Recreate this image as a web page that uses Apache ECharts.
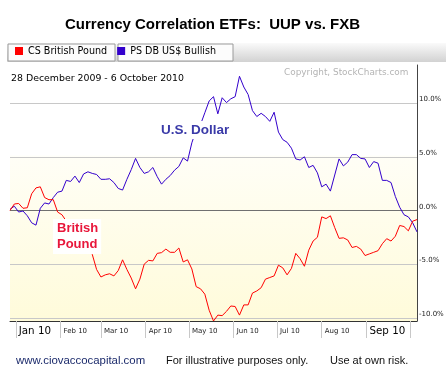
<!DOCTYPE html>
<html><head><meta charset="utf-8">
<script src="https://cdn.jsdelivr.net/npm/echarts@6/dist/echarts.min.js"></script>
<style>html,body{margin:0;padding:0;background:#fff}#c{width:446px;height:387px}</style>
</head><body><div id="c"></div>
<script>
const titleText = 'Currency Correlation ETFs:  UUP vs. FXB';
const dateRangeText = '28 December 2009 - 6 October 2010';
const copyrightText = 'Copyright, StockCharts.com';
const seriesNames = ['CS British Pound', 'PS DB US$ Bullish'];
const footerTexts = ['www.ciovaccocapital.com', 'For illustrative purposes only.', 'Use at own risk.'];
const monthNames = ['Jan','Feb','Mar','Apr','May','Jun','Jul','Aug','Sep','Oct','Nov','Dec'];
const yTicks = [-10, -5, 0, 5, 10];

const dates = ['2009-12-28','2009-12-31','2010-01-03','2010-01-06','2010-01-09','2010-01-12','2010-01-15','2010-01-18','2010-01-21','2010-01-24','2010-01-27','2010-01-30','2010-02-02','2010-02-05','2010-02-08','2010-02-11','2010-02-14','2010-02-17','2010-02-20','2010-02-23','2010-02-26','2010-03-01','2010-03-04','2010-03-07','2010-03-10','2010-03-13','2010-03-16','2010-03-19','2010-03-22','2010-03-25','2010-03-28','2010-03-31','2010-04-03','2010-04-06','2010-04-09','2010-04-12','2010-04-15','2010-04-18','2010-04-21','2010-04-24','2010-04-27','2010-04-30','2010-05-03','2010-05-06','2010-05-09','2010-05-12','2010-05-15','2010-05-18','2010-05-21','2010-05-24','2010-05-27','2010-05-30','2010-06-02','2010-06-05','2010-06-08','2010-06-11','2010-06-14','2010-06-17','2010-06-20','2010-06-23','2010-06-26','2010-06-29','2010-07-02','2010-07-05','2010-07-08','2010-07-11','2010-07-14','2010-07-17','2010-07-20','2010-07-23','2010-07-26','2010-07-29','2010-08-01','2010-08-04','2010-08-07','2010-08-10','2010-08-13','2010-08-16','2010-08-19','2010-08-22','2010-08-25','2010-08-28','2010-08-31','2010-09-03','2010-09-06','2010-09-09','2010-09-12','2010-09-15','2010-09-18','2010-09-21','2010-09-24','2010-09-27','2010-09-30','2010-10-03','2010-10-06'];

const britishPound = [0.0,0.6,0.65,0.2,0.25,1.55,2.1,2.2,1.2,1.0,1.0,-0.15,-0.4,-1.0,-1.6,-2.0,-2.5,-3.0,-3.5,-4.1,-5.5,-6.2,-6.0,-5.9,-6.1,-5.6,-4.6,-5.5,-6.3,-7.3,-6.4,-5.0,-4.65,-4.7,-4.0,-3.93,-3.6,-3.9,-3.9,-3.5,-4.8,-4.6,-5.45,-7.1,-7.3,-7.8,-9.3,-10.3,-9.75,-9.8,-9.4,-8.9,-8.95,-9.75,-8.8,-8.8,-7.7,-7.5,-7.2,-6.4,-6.25,-6.1,-5.1,-5.35,-6.0,-5.4,-4.0,-4.5,-5.2,-3.7,-2.85,-2.5,-0.6,-0.76,-0.5,-1.6,-2.6,-2.55,-2.75,-3.45,-3.35,-3.6,-4.2,-4.05,-3.9,-3.75,-3.1,-2.63,-2.85,-2.4,-1.4,-1.5,-1.9,-1.0,-0.85];

const usDollar = [0.1,0.4,-0.15,-0.05,-0.5,-1.15,-1.37,0.2,0.7,0.6,1.2,1.7,1.8,2.8,2.7,3.2,2.6,3.4,3.6,3.45,3.35,2.9,2.9,2.95,2.6,2.05,1.9,2.9,3.8,4.85,4.0,3.45,3.6,4.0,3.15,2.45,2.9,3.25,3.75,4.1,4.9,4.6,6.3,7.5,8.0,9.1,10.2,10.6,9.0,10.5,10.05,10.4,10.6,12.5,11.5,10.8,9.3,8.75,9.05,8.75,8.3,9.15,7.3,6.6,6.35,5.8,4.8,4.7,5.0,4.0,4.2,3.5,2.2,2.45,1.8,3.3,4.8,4.15,4.5,5.2,5.2,4.85,4.8,4.0,4.55,4.4,2.8,2.8,2.6,1.3,0.3,-0.4,-0.6,-1.15,-2.0];

const DAY = 24 * 3600 * 1000;
const pair = vals => dates.map((d, i) => [d, vals[i]]);

const chart = echarts.init(document.getElementById('c'), null, {renderer: 'canvas'});
const option = {
  animation: false,
  backgroundColor: '#fff',
  textStyle: {fontFamily: 'DejaVu Sans'},
  title: {
    text: titleText, left: 65, top: 17, padding: 0,
    textStyle: {fontFamily: 'Liberation Sans, Arial', fontWeight: 'bold', fontSize: 15, color: '#000',
      textShadowColor: 'rgba(235,170,0,0.5)', textShadowOffsetX: 1, textShadowOffsetY: 1, textShadowBlur: 0}
  },
  legend: {
    left: 15, top: 46, padding: 0, itemWidth: 8, itemHeight: 8, itemGap: 10, icon: 'rect',
    selectedMode: false,
    textStyle: {fontFamily: 'DejaVu Sans', fontSize: 9.6, color: '#000', width: 86},
    data: seriesNames
  },
  grid: {left: 10, right: 29, top: 65, bottom: 66, outerBoundsMode: 'none', containLabel: false},
  xAxis: {
    type: 'time', min: dates[0], max: dates[dates.length - 1],
    minInterval: 28 * DAY, maxInterval: 31 * DAY,
    splitLine: {show: false},
    axisLine: {show: true, onZero: false, lineStyle: {color: '#333', width: 1}},
    axisTick: {show: true, length: 17, lineStyle: {color: '#c8c8c8'}},
    axisLabel: {
      show: true, margin: 3, align: 'left', interval: 0, hideOverlap: false,
      formatter: function (v) {
        const d = new Date(v);
        if (d.getDate() !== 1) return '';
        const m = d.getMonth();
        if (m === 9) return '';
        const s = monthNames[m] + ' ' + String(d.getFullYear()).slice(2);
        return (m === 0 || m === 8) ? '{big|' + s + '}' : '{small|' + s + '}';
      },
      rich: {
        big: {fontSize: 10.3, lineHeight: 14, color: '#000', fontFamily: 'DejaVu Sans', padding: [0, 0, 0, 3]},
        small: {fontSize: 7, lineHeight: 14, color: '#222', fontFamily: 'DejaVu Sans', padding: [0, 0, 0, 3]}
      }
    }
  },
  yAxis: {
    type: 'value', position: 'right', min: -10.3, max: 13.55, scale: true,
    axisLine: {show: true, lineStyle: {color: '#444', width: 1}},
    axisTick: {show: false, customValues: yTicks},
    splitLine: {show: true, lineStyle: {color: '#c8c8c8', width: 1}},
    axisLabel: {
      customValues: yTicks, margin: 2, verticalAlign: 'bottom',
      fontSize: 7, color: '#222', fontFamily: 'DejaVu Sans',
      formatter: v => v.toFixed(1) + '%'
    }
  },
  graphic: [
    {type: 'rect', z: -10, shape: {x: 10, y: 65, width: 407, height: 256},
      style: {fill: new echarts.graphic.LinearGradient(0, 0, 0, 1, [
        {offset: 0, color: '#ffffff'}, {offset: 0.35, color: '#ffffff'},
        {offset: 0.36, color: '#fffef6'}, {offset: 1, color: '#fffbda'}])}},
    {type: 'rect', z: -5, shape: {x: 7, y: 43, width: 439, height: 19},
      style: {fill: new echarts.graphic.LinearGradient(0, 0, 0, 1, [
        {offset: 0, color: '#fafafa'}, {offset: 1, color: '#d2d2d2'}])}},
    {type: 'rect', z: -4, shape: {x: 8, y: 44, width: 107, height: 17},
      style: {fill: '#fcfcfc', stroke: '#9a9a9a', lineWidth: 1}},
    {type: 'rect', z: -4, shape: {x: 118, y: 44, width: 115, height: 17},
      style: {fill: '#fcfcfc', stroke: '#9a9a9a', lineWidth: 1}},
    {type: 'text', x: 11, y: 79, z: 10,
      style: {text: dateRangeText, font: '9.4px "DejaVu Sans"', fill: '#000', verticalAlign: 'middle'}},
    {type: 'text', x: 284, y: 73, z: 10,
      style: {text: copyrightText, font: '8.9px "DejaVu Sans"', fill: '#b4b4b4', verticalAlign: 'middle'}},
    {type: 'text', x: 158, y: 121, z: 100,
      style: {text: 'U.S. Dollar', font: 'bold 13.5px "Liberation Sans", Arial', fill: '#3a3aa8',
        backgroundColor: '#fff', padding: [2, 3, 2, 3]}},
    {type: 'text', x: 53, y: 219, z: 100,
      style: {text: 'British\nPound', font: 'bold 13px "Liberation Sans", Arial', fill: '#e8163a', lineHeight: 15.5,
        backgroundColor: '#fff', padding: [2, 3, 2, 4]}},
    {type: 'text', x: 16, y: 361, z: 10,
      style: {text: footerTexts[0], font: '11.4px "Liberation Sans", Arial', fill: '#1b2a6b', verticalAlign: 'middle'}},
    {type: 'text', x: 166, y: 361, z: 10,
      style: {text: footerTexts[1], font: '11px "Liberation Sans", Arial', fill: '#111', verticalAlign: 'middle'}},
    {type: 'text', x: 330, y: 361, z: 10,
      style: {text: footerTexts[2], font: '11px "Liberation Sans", Arial', fill: '#111', verticalAlign: 'middle'}}
  ],
  series: [
    {name: seriesNames[1], type: 'line', data: pair(usDollar), showSymbol: false, symbol: 'none',
      color: '#3300cc', lineStyle: {width: 1, color: '#3300cc'}, z: 3,
      markLine: {silent: true, symbol: 'none', label: {show: false},
        lineStyle: {color: '#707070', width: 1, type: 'solid'}, data: [{yAxis: 0}], z: 1}},
    {name: seriesNames[0], type: 'line', data: pair(britishPound), showSymbol: false, symbol: 'none',
      color: '#ff0000', lineStyle: {width: 1, color: '#ff0000'}, z: 4}
  ]
};
chart.setOption(option);
</script></body></html>
